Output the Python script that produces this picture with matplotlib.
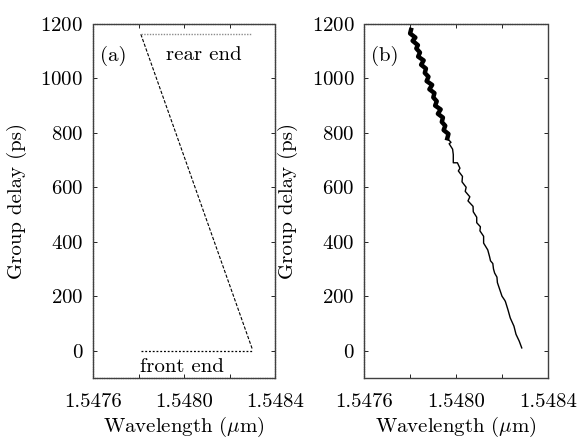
import matplotlib
matplotlib.use("Agg")
import matplotlib.pyplot as plt
from matplotlib.ticker import MultipleLocator, FormatStrFormatter

plt.rcParams["font.family"] = "serif"
plt.rcParams["font.serif"] = ["cmr10"]
plt.rcParams["mathtext.fontset"] = "cm"
plt.rcParams["axes.formatter.use_mathtext"] = True

# (a) ideal delay: linear chirp between the two grating ends
ideal_wl = [1.54781, 1.54830]
ideal_delay = [1162, 5]
rear_wl = [1.54781, 1.54830]
rear_delay = [1162, 1162]
front_wl = [1.54781, 1.54830]
front_delay = [0, 0]

# (b) measured delay, dense noisy upper part
band_wl = [1.547804, 1.547800, 1.547823, 1.547811, 1.547834, 1.547827, 1.547843,
           1.547835, 1.547859, 1.547848, 1.547869, 1.547864, 1.547880, 1.547872,
           1.547896, 1.547884, 1.547906, 1.547901, 1.547916, 1.547909, 1.547933,
           1.547921, 1.547943, 1.547938, 1.547953, 1.547946, 1.547967, 1.547962]
band_delay = [1178, 1165, 1150, 1138, 1122, 1110, 1095, 1080, 1066, 1050, 1036,
              1020, 1006, 990, 976, 960, 946, 930, 916, 900, 886, 870, 856, 840,
              826, 810, 796, 780]

# (b) measured delay, lower part
tail_wl = [1.547962, 1.547978, 1.547970, 1.547985, 1.547988, 1.547988, 1.548006,
           1.548017, 1.548010, 1.548028, 1.548026, 1.548044, 1.548040, 1.548060,
           1.548052, 1.548074, 1.548075, 1.548090, 1.548090, 1.548106, 1.548104,
           1.548120, 1.548120, 1.548138, 1.548146, 1.548150, 1.548160, 1.548163,
           1.548168, 1.548178, 1.548180, 1.548188, 1.548200, 1.548212, 1.548215,
           1.548226, 1.548236, 1.548252, 1.548261, 1.548275, 1.548286]
tail_delay = [780, 765, 760, 740, 720, 690, 690, 670, 660, 640, 620, 600, 585, 565,
              550, 530, 510, 490, 470, 455, 440, 420, 395, 370, 345, 330, 320, 300,
              285, 270, 250, 230, 200, 185, 180, 150, 120, 90, 60, 35, 10]

fs = 15

fig = plt.figure(figsize=(5.78, 4.43), dpi=100)
ax1 = fig.add_axes([0.161, 0.147, 0.315, 0.799])
ax2 = fig.add_axes([0.630, 0.147, 0.318, 0.799])

ax1.plot(ideal_wl, ideal_delay, color="k", lw=0.8, ls=(0, (3, 1.5)))
ax1.plot(rear_wl, rear_delay, color="0.55", lw=1.0, ls=(0, (1, 1)))
ax1.plot(front_wl, front_delay, color="k", lw=0.9, ls=(0, (1.5, 1.5)))
ax1.text(0.038, 0.895, "(a)", transform=ax1.transAxes, fontsize=fs, va="baseline")
ax1.text(0.61, 0.898, "rear end", transform=ax1.transAxes, fontsize=fs,
         ha="center", va="baseline")
ax1.text(0.49, 0.017, "front end", transform=ax1.transAxes, fontsize=fs,
         ha="center", va="baseline")

ax2.plot(band_wl, band_delay, color="k", lw=3.2)
ax2.plot(tail_wl, tail_delay, color="k", lw=1.0)
ax2.text(0.038, 0.895, "(b)", transform=ax2.transAxes, fontsize=fs, va="baseline")

for ax in (ax1, ax2):
    ax.set_xlim(1.5476, 1.5484)
    ax.set_ylim(-100, 1200)
    ax.xaxis.set_major_locator(MultipleLocator(0.0004))
    ax.xaxis.set_minor_locator(MultipleLocator(0.0002))
    ax.xaxis.set_major_formatter(FormatStrFormatter("%.4f"))
    ax.yaxis.set_major_locator(MultipleLocator(200))
    ax.tick_params(which="both", direction="in", top=True, right=True,
                   length=3, width=0.6, labelsize=fs)
    ax.tick_params(axis="x", pad=11)
    ax.tick_params(axis="y", pad=7)
    ax.set_xlabel(r"Wavelength ($\mu$m)", fontsize=fs, labelpad=3)
    ax.set_ylabel("Group delay (ps)", fontsize=fs, labelpad=10)
    for s in ax.spines.values():
        s.set_linewidth(1.0)
        s.set_color("0.25")

for name in ("top", "bottom", "left", "right"):
    ax1.spines[name].set_linestyle((0, (1, 0.7)))
for name in ("top", "left"):
    ax2.spines[name].set_linestyle((0, (1, 0.7)))

fig.savefig("out.png", dpi=100)
